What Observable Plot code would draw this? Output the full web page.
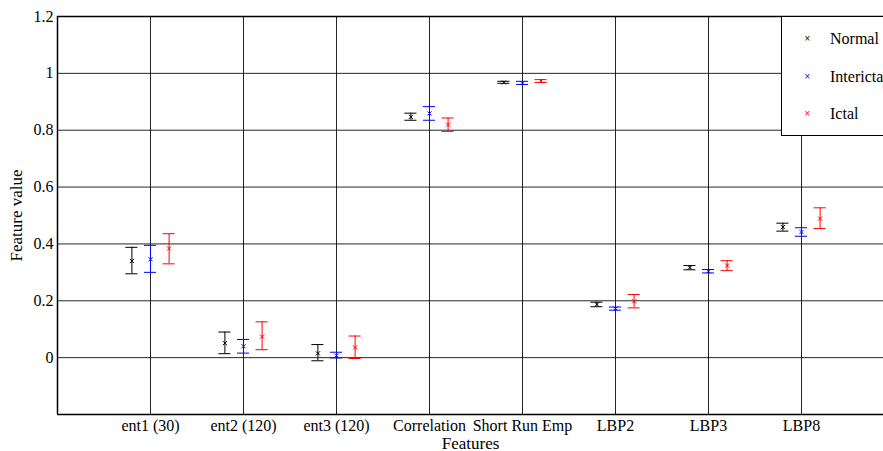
<!DOCTYPE html>
<html><head><meta charset="utf-8">
<script src="https://cdn.jsdelivr.net/npm/d3@7"></script>
<script src="https://cdn.jsdelivr.net/npm/@observablehq/plot@0.6"></script>
<style>
body{margin:0;background:#fff;}
#wrap{position:relative;width:883px;height:451px;overflow:hidden;}
#chart svg, #chart svg text{font-family:"Liberation Serif","Times New Roman","DejaVu Serif",serif !important;}
#chart svg g[aria-label="y-axis tick label"] text, #chart svg g[aria-label="x-axis tick label"] text{font-size:16px !important;}
#chart svg g[aria-label="y-axis label"] text{font-size:17px !important;}
#chart svg g[aria-label="x-axis label"] text{font-size:17px !important;}
#legend{position:absolute;left:781px;top:16px;width:120px;height:118px;border:1px solid #000;background:#fff;font-family:"Liberation Serif","Times New Roman","DejaVu Serif",serif;font-size:16px;}
#legend div{position:absolute;left:48px;}
#legend span{position:absolute;left:-26px;top:4px;font-size:8px;font-family:"DejaVu Sans",sans-serif;}
</style></head>
<body><div id="wrap"><div id="chart"></div><div id="legend"></div></div>
<script>
const categories = ["ent1 (30)","ent2 (120)","ent3 (120)","Correlation","Short Run Emp","LBP2","LBP3","LBP8"];
const seriesNames = ["Normal","Interictal","Ictal"];
const seriesColors = ["#000000","#0000ff","#ff0000"];
const normalMean = [0.340,0.051,0.015,0.847,0.968,0.187,0.317,0.459];
const normalLo   = [0.295,0.014,-0.011,0.835,0.965,0.179,0.309,0.445];
const normalHi   = [0.388,0.090,0.046,0.860,0.972,0.195,0.324,0.473];
const interMean  = [0.346,0.040,0.007,0.859,0.966,0.172,0.304,0.442];
const interLo    = [0.300,0.016,-0.001,0.835,0.961,0.167,0.298,0.427];
const interHi    = [0.395,0.064,0.019,0.883,0.972,0.178,0.310,0.457];
const ictalMean  = [0.384,0.074,0.036,0.820,0.973,0.198,0.324,0.489];
const ictalLo    = [0.330,0.028,-0.003,0.796,0.968,0.175,0.306,0.454];
const ictalHi    = [0.436,0.126,0.076,0.843,0.978,0.222,0.341,0.527];
const yTicks = [0,0.2,0.4,0.6,0.8,1,1.2];

const offsets = [-0.2,0,0.2];
const capHalf = 0.065;
const means = [normalMean, interMean, ictalMean];
const los = [normalLo, interLo, ictalLo];
const his = [normalHi, interHi, ictalHi];
const rows = [];
seriesNames.forEach((s,si)=>{
  categories.forEach((c,ci)=>{
    rows.push({series:s, color:seriesColors[si], x:ci+1+offsets[si], mean:means[si][ci], lo:los[si][ci], hi:his[si][ci]});
  });
});
const xPos = categories.map((c,i)=>i+1);

const plot = Plot.plot({
  width:883, height:451,
  marginLeft:57, marginRight:0, marginTop:16, marginBottom:37,
  style:{background:"#fff", color:"#000"},
  x:{domain:[0,826/93]},
  y:{domain:[-0.2,1.2]},
  marks:[
    Plot.gridX(xPos,{stroke:"#000", strokeOpacity:0.85}),
    Plot.gridY(yTicks,{stroke:"#000", strokeOpacity:0.85}),
    Plot.ruleX([0],{stroke:"#000", strokeWidth:1.5}),
    Plot.ruleY([-0.2],{stroke:"#000", strokeWidth:1.5}),
    Plot.ruleY([1.2],{stroke:"#000", strokeWidth:1.5}),
    Plot.axisY({ticks:yTicks, tickFormat:d=>String(d), tickSize:0, tickPadding:4, label:"Feature value", labelAnchor:"center", labelArrow:"none", labelOffset:48}),
    Plot.axisX({ticks:xPos, tickFormat:d=>categories[d-1], tickSize:0, tickPadding:5, label:"Features", labelAnchor:"center", labelArrow:"none", labelOffset:34}),
    Plot.ruleX(rows,{x:"x", y1:"lo", y2:"hi", stroke:"color", strokeWidth:1}),
    Plot.ruleY(rows,{y:"lo", x1:d=>d.x-capHalf, x2:d=>d.x+capHalf, stroke:"color", strokeWidth:1}),
    Plot.ruleY(rows,{y:"hi", x1:d=>d.x-capHalf, x2:d=>d.x+capHalf, stroke:"color", strokeWidth:1}),
    Plot.dot(rows,{x:"x", y:"mean", symbol:"times", r:2, stroke:"color", strokeWidth:1})
  ]
});
document.getElementById("chart").appendChild(plot);

const leg = document.getElementById("legend");
seriesNames.forEach((s,i)=>{
  const d = document.createElement("div");
  d.style.top = (13 + i*37.5) + "px";
  d.innerHTML = `<span style="color:${seriesColors[i]}">×</span>${s}`;
  leg.appendChild(d);
});
</script></body></html>
